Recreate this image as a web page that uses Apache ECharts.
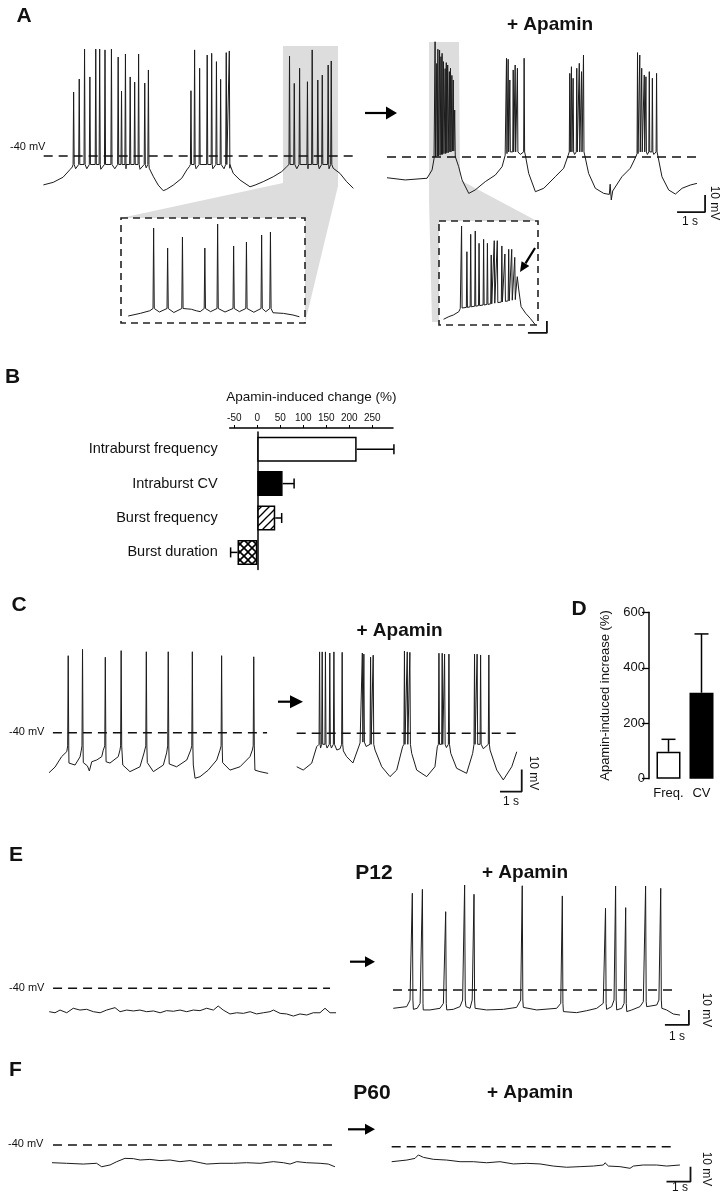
<!DOCTYPE html>
<html><head><meta charset="utf-8">
<script src="https://cdn.jsdelivr.net/npm/echarts@6/dist/echarts.min.js"></script>
<style>html,body{margin:0;padding:0;background:#fff}#c{width:724px;height:1199px}</style>
</head><body><div id="c"></div>
<script>
// ---------------- DATA ----------------
// Traces: time (s), membrane potential (mV). Spikes: [time, base mV, peak mV]
const A_LEFT_BASE = [[0.05,-57],[0.4,-55.5],[0.75,-52.5],[1.0,-48],[1.08,-46.5],[1.2,-47.5],[1.6,-47.5],[2.1,-47.8],[2.6,-47.5],[3.0,-47.5],[3.5,-47.8],[3.72,-47],[3.83,-47.2],[3.98,-52.2],[4.15,-57.1],[4.33,-60.4],[4.45,-59.6],[4.69,-57.1],[4.99,-53.1],[5.17,-48.2],[5.26,-46.3],[5.5,-47.5],[6.1,-47.5],[6.5,-47.5],[6.71,-47.2],[6.83,-50.2],[7.07,-54.1],[7.43,-58.1],[7.61,-57.1],[7.90,-55.1],[8.26,-52.2],[8.56,-49.2],[8.74,-46.3],[9.1,-47.5],[9.5,-47.5],[9.9,-47.5],[10.25,-47.5],[10.40,-47.2],[10.64,-50.2],[10.88,-55.1],[11.12,-59]];
const A_LEFT_SPIKES = [[1.11,-45,-2.4],[1.31,-45,5.3],[1.50,-45,22.9],[1.69,-45,6.5],[1.90,-45,22.9],[2.04,-45,22.9],[2.23,-45,22.4],[2.46,-45,22.9],[2.70,-45,18.2],[2.82,-45,-1.8],[2.96,-45,20.0],[3.13,-45,6.5],[3.29,-45,3.5],[3.43,-45,20.0],[3.65,-45,2.9],[3.78,-45,10.6],
  [5.30,-45,-1.6],[5.43,-45,22.4],[5.61,-45,11.6],[5.88,-45,19.4],[6.04,-45,20.4],[6.21,-45,15.5],[6.36,-45,5.1],[6.56,-45,20.8],[6.67,-45,21.8],
  [8.82,-45,18.8],[8.99,-45,2.7],[9.18,-45,11.6],[9.46,-45,3.7],[9.63,-45,22.4],[9.83,-45,4.7],[9.99,-45,7.6],[10.20,-45,13.5],[10.31,-45,15.9]];
const A_RIGHT_BASE = [[0,-52.2],[0.65,-53.5],[1.43,-52.5],[1.61,-47.6],[1.68,-41],[1.9,-39],[2.2,-37.5],[2.44,-39.8],[2.56,-45.7],[2.68,-53.5],[2.92,-61.4],[3.15,-59.4],[3.51,-54.5],[3.87,-50.6],[4.11,-45.7],[4.22,-39],[4.76,-38.5],[4.94,-38.8],[5.06,-49.6],[5.30,-60.4],[5.60,-58.4],[6.01,-51.6],[6.31,-46.6],[6.47,-39],[6.70,-38.5],[7.06,-38.8],[7.20,-49.6],[7.44,-58.4],[7.74,-61.4],[7.94,-62],[7.97,-56],[8.01,-65.3],[8.06,-60],[8.39,-51.6],[8.69,-46.6],[8.89,-39.8],[9.3,-38.5],[9.53,-38.5],[9.68,-39.8],[9.82,-51.6],[10.06,-59.4],[10.30,-61.8],[10.54,-58.4],[10.83,-56.5],[11.07,-55.5]];
const A_RIGHT_SPIKES = [[1.70,-40,27.8],[1.76,-39.5,15],[1.80,-39.5,23.4],[1.86,-39,22.9],[1.91,-38.5,19],[1.95,-38.5,21],[2.00,-38,16.1],[2.06,-38,12],[2.10,-37.5,15.5],[2.15,-37.5,14.1],[2.21,-37,10.2],[2.25,-37,12.2],[2.30,-36.5,8],[2.35,-36.5,5.3],[2.40,-36.5,-12.4],
  [4.25,-38,18.1],[4.31,-37,17.5],[4.37,-37,5.3],[4.49,-37,11.2],[4.56,-37,14.1],[4.64,-37,12.2],[4.88,-37,18.1],
  [6.51,-37,9.2],[6.57,-37,13.1],[6.63,-37,6.3],[6.76,-37,12.2],[6.85,-37,15.1],[6.93,-37,10.2],[7.00,-37,20.0],
  [8.93,-38,21.4],[9.01,-37,20.0],[9.08,-37,12.2],[9.17,-37,8.2],[9.23,-37,7.2],[9.35,-37,10.2],[9.46,-37,6.3],[9.61,-37,9.2]];
const A_INSET_L_BASE = [[0.09,-50],[0.24,-47.9],[0.36,-45.8],[0.48,-46.8],[0.66,-47.2],[0.88,-44.6],[0.94,-45.8],[0.99,-46.5],[1.12,-46.5],[1.30,-46.8],[1.48,-46.5],[1.66,-47],[1.81,-46.5],[1.90,-47.4],[2.03,-47.9],[2.15,-49.2],[2.23,-50.6]];
const A_INSET_L_SPIKES = [[0.40,-44,20.4],[0.575,-44,4.4],[0.76,-44,13.2],[1.04,-44,4.4],[1.20,-44,23.6],[1.40,-44,6],[1.56,-44,9.2],[1.75,-44,14.8],[1.86,-44,17.2]];
const A_INSET_R_BASE = [[0.06,-51.9],[0.13,-49.7],[0.19,-48.3],[0.26,-45.6],[0.28,-43],[1.01,-30],[1.03,-16.4],[1.05,-27.5],[1.08,-41.4],[1.14,-46.9],[1.20,-51.1],[1.27,-56.7]];
const A_INSET_R_SPIKES = [[0.29,-42.5,25.8],[0.36,-42,4.4],[0.41,-41.5,18.9],[0.47,-41,21.7],[0.52,-40.5,11.4],[0.58,-40,14.7],[0.63,-39.5,11.4],[0.68,-39,1.7],[0.72,-38.5,13.6],[0.76,-38,13.6],[0.82,-37.5,9.2],[0.86,-37,2.5],[0.91,-36.5,6.4],[0.95,-36,6.4],[0.99,-35.5,-0.3]];

const C_LEFT_BASE = [[0,-58.2],[0.28,-55.6],[0.58,-50.9],[0.82,-48.6],[0.92,-53.8],[1.20,-54.7],[1.43,-51.0],[1.49,-47.9],[1.58,-53.6],[1.77,-55.1],[1.86,-57.4],[1.97,-53.2],[2.20,-52.4],[2.43,-50.9],[2.50,-47.9],[2.63,-53.2],[2.81,-53.8],[3.19,-50.9],[3.27,-47.9],[3.40,-54.7],[3.73,-57.7],[4.19,-55.5],[4.38,-49.2],[4.53,-53.6],[4.81,-57.7],[5.27,-54.7],[5.42,-49.2],[5.54,-54.2],[5.88,-55.5],[6.35,-52.4],[6.53,-47.9],[6.65,-54.7],[6.73,-60.7],[6.96,-60],[7.34,-57],[7.73,-52.4],[7.88,-47.9],[8.00,-53.6],[8.34,-57],[8.80,-55.5],[9.26,-50.9],[9.37,-47.9],[9.49,-57],[9.72,-57.7],[10.10,-58.5]];
const C_LEFT_SPIKES = [[0.86,-46,-5.0],[1.52,-46,-2.1],[2.57,-46,-5.7],[3.30,-46,-2.7],[4.46,-46,-3.2],[5.47,-46,-3.2],[6.58,-46,-3.2],[7.93,-46,-5.0],[9.41,-46,-5.5]];
const C_RIGHT_BASE = [[0,-55.2],[0.30,-56.7],[0.69,-53.6],[0.92,-46.1],[1.1,-46.7],[1.4,-46.7],[1.6,-46.7],[1.85,-47.6],[2.0,-47],[2.15,-48],[2.30,-50.6],[2.59,-53.5],[2.92,-44.4],[3.2,-46],[3.61,-47.6],[3.92,-55.2],[4.30,-59.7],[4.61,-56.7],[4.88,-46.1],[5.30,-49.1],[5.53,-56.7],[5.99,-59.7],[6.37,-55.2],[6.48,-46.1],[6.9,-46.5],[7.10,-49.1],[7.37,-55.9],[7.83,-58.2],[8.11,-49.1],[8.6,-47],[8.91,-47.6],[9.22,-56.7],[9.52,-61.2],[9.91,-55.2],[10.14,-48.4]];
const C_RIGHT_SPIKES = [[1.03,-45,-3],[1.15,-45,-3],[1.30,-45,-3],[1.50,-45,-3.5],[1.69,-45,-3],[2.07,-45,-3.2],
  [3.00,-44,-3.5],[3.07,-44,-4],[3.38,-45,-5.4],[3.50,-45,-4.5],
  [4.94,-45,-2.6],[5.07,-45,-3],[5.19,-45,-3.2],
  [6.53,-45,-3.6],[6.68,-45,-3.6],[6.79,-45,-4],[6.99,-45,-4],
  [8.17,-45,-4],[8.29,-45,-4],[8.45,-45,-4.4],[8.83,-45,-4.4]];

const E_LEFT_BASE = [[0.01,-55.6],[0.25,-56.3],[0.46,-54.5],[0.74,-56.3],[1.01,-53.3],[1.29,-54.5],[1.57,-54.0],[1.85,-55.6],[2.13,-56.3],[2.40,-54.5],[2.75,-52.9],[2.96,-55.6],[3.24,-54.5],[3.51,-55.1],[3.79,-54.5],[4.07,-55.6],[4.35,-55.1],[4.63,-56.3],[4.90,-54.9],[5.18,-55.3],[5.46,-54.5],[5.74,-55.6],[6.01,-54.5],[6.29,-54.9],[6.57,-53.3],[6.85,-54.5],[7.05,-51.8],[7.26,-54.5],[7.54,-57.1],[7.82,-56.3],[8.10,-56.7],[8.38,-55.6],[8.65,-57.1],[8.93,-56.3],[9.21,-55.6],[9.35,-54.5],[9.63,-56.7],[9.90,-57.1],[10.18,-58.5],[10.46,-57.1],[10.74,-57.8],[11.01,-56.3],[11.29,-56.3],[11.50,-53.3],[11.71,-56.3],[11.96,-56.3]];
const E_RIGHT_BASE = [[0.01,-52.2],[0.57,-51.1],[0.71,-46.7],[0.85,-52.9],[1.01,-52.2],[1.13,-48.9],[1.26,-53.3],[1.54,-53.3],[1.96,-52.2],[2.10,-48.9],[2.24,-53.3],[2.51,-52.9],[2.79,-51.1],[2.90,-46.7],[3.04,-51.1],[3.21,-52.2],[3.30,-46.7],[3.42,-52.2],[3.90,-53.3],[4.60,-52.9],[5.15,-51.6],[5.32,-46.7],[5.43,-51.6],[5.99,-53.3],[6.82,-52.2],[6.99,-48.9],[7.10,-54.4],[7.65,-55.1],[8.07,-53.8],[8.49,-52.2],[8.76,-48.9],[8.90,-52.9],[9.11,-51.1],[9.21,-46.7],[9.32,-53.3],[9.53,-52.2],[9.63,-48.9],[9.74,-54.4],[9.95,-53.3],[10.29,-51.1],[10.43,-47.8],[10.57,-51.1],[10.99,-50.0],[11.08,-46.7],[11.20,-52.2],[11.40,-53.3],[11.68,-56.0],[11.96,-56.7]];
const E_RIGHT_SPIKES = [[0.78,-46.7,24.5],[1.20,-48.9,27.1],[2.17,-48.9,12.2],[2.96,-46.7,30.0],[3.35,-46.7,23.8],[5.36,-46.7,29.5],[7.03,-48.9,22.7],[8.83,-48.9,14.5],[9.25,-46.7,29.3],[9.67,-48.9,14.9],[10.50,-47.8,29.3],[11.13,-46.7,27.8]];

const F_LEFT_BASE = [[0,-51.8],[0.61,-52.2],[1.30,-52.7],[1.86,-52.2],[2.07,-54.5],[2.42,-53.3],[2.70,-51.1],[3.04,-48.9],[3.39,-49.1],[3.67,-50.0],[4.08,-49.6],[4.50,-50.4],[4.92,-50.0],[5.33,-51.1],[5.75,-50.4],[6.17,-51.8],[6.45,-52.7],[7.00,-52.2],[7.56,-52.2],[8.11,-51.8],[8.67,-52.2],[9.22,-51.1],[9.64,-51.8],[9.92,-52.7],[10.20,-51.1],[10.61,-51.8],[11.17,-52.2],[11.51,-52.7],[11.79,-54.5]];
const F_RIGHT_BASE = [[0,-50],[0.63,-48.9],[0.97,-47.8],[1.11,-45.5],[1.32,-47.1],[1.73,-48.4],[2.29,-48.9],[2.85,-50.0],[3.40,-50.0],[3.96,-50.7],[4.51,-50.0],[5.07,-51.5],[5.63,-51.1],[6.18,-51.5],[6.73,-52.9],[7.29,-53.7],[7.85,-53.3],[8.40,-52.9],[8.82,-52.2],[8.89,-50.7],[9.03,-52.9],[9.51,-53.3],[9.93,-54.4],[10.07,-52.9],[10.48,-52.2],[11.04,-52.2],[11.46,-52.9],[12.01,-52.2]];

// reference level (mV) and its extent (s) per trace
const REF_MV = -40;
const REF_SPANS = {aL:[0.06,11.18], aR:[0,11.14], cL:[0.18,10.05], cR:[0,10.1], eL:[0.17,11.71], eR:[0,11.67], fL:[0.04,11.71], fR:[0,11.72]};
// scale bars: [seconds, mV]
const SCALE_MAIN = [1, 10];
const SCALE_INSET = [0.25, 10];

// Panel B
const B_CATS = ['Intraburst frequency','Intraburst CV','Burst frequency','Burst duration'];
const B_MEANS = [216, 55, 39, -43];
const B_ERRS = [81, 25, 14, 15];
const B_TICKS = [-50, 0, 50, 100, 150, 200, 250];
// Panel D
const D_CATS = ['Freq.', 'CV'];
const D_MEANS = [97, 310];
const D_ERRS = [45, 212];

// ---------------- LAYOUT ----------------
const FONT = "'Liberation Sans', Arial, sans-serif";
const INK = '#1c1c1c';
const G = {
  aL:  {left:42,    top:37,    width:336,   height:187,   x:[0,12],  y:[-80,30]},
  aR:  {left:387,   top:38,    width:336,   height:187,   x:[0,12],  y:[-80,30]},
  aIL: {left:121,   top:216,   width:184,   height:112.5, x:[0,2.3], y:[-60,30]},
  aIR: {left:439,   top:221,   width:114,   height:120,   x:[0,1.5], y:[-70,30]},
  cL:  {left:49,    top:644.7, width:238.7, height:154,   x:[0,11],  y:[-70,0]},
  cR:  {left:296.7, top:645.3, width:238.7, height:154,   x:[0,11],  y:[-70,0]},
  eL:  {left:49,    top:875.8, width:300,   height:157.5, x:[0,12.5],y:[-70,35]},
  eR:  {left:393,   top:877.5, width:312,   height:157.5, x:[0,13],  y:[-70,35]},
  fL:  {left:52,    top:1115,  width:300,   height:75,    x:[0,12.5],y:[-70,-20]},
  fR:  {left:391.7, top:1116.7,width:312,   height:75,    x:[0,13],  y:[-70,-20]}
};
const SB_POS = {aR:[10.36,-72.4], aIR:[1.17,-63.3], cR:[9.37,-66.5], eR:[11.33,-63.3], fR:[11.45,-63.3]};

function buildTrace(base, spikes, w) {
  const pts = base.map(p => [p[0], p[1]]);
  (spikes || []).forEach(s => { pts.push([s[0], s[1]], [s[0] + w * 0.5, s[2]], [s[0] + w, s[1]]); });
  pts.sort((a, b) => a[0] - b[0]);
  return pts;
}

const grids = [], xAxes = [], yAxes = [], series = [];
const gIndex = {};
Object.keys(G).forEach(k => {
  const g = G[k];
  gIndex[k] = grids.length;
  grids.push({left:g.left, top:g.top, width:g.width, height:g.height});
  xAxes.push({type:'value', gridIndex:gIndex[k], min:g.x[0], max:g.x[1], show:false});
  yAxes.push({type:'value', gridIndex:gIndex[k], min:g.y[0], max:g.y[1], show:false});
});
function addLine(k, data, style) {
  series.push({type:'line', xAxisIndex:gIndex[k], yAxisIndex:gIndex[k], data, symbol:'none', showSymbol:false,
    animation:false, clip:false, silent:true, lineStyle:Object.assign({color:INK, width:1}, style || {})});
}
addLine('aL', buildTrace(A_LEFT_BASE, A_LEFT_SPIKES, 0.04));
addLine('aR', buildTrace(A_RIGHT_BASE, A_RIGHT_SPIKES, 0.035));
addLine('aIL', buildTrace(A_INSET_L_BASE, A_INSET_L_SPIKES, 0.016));
addLine('aIR', buildTrace(A_INSET_R_BASE, A_INSET_R_SPIKES, 0.014));
addLine('cL', buildTrace(C_LEFT_BASE, C_LEFT_SPIKES, 0.05));
addLine('cR', buildTrace(C_RIGHT_BASE, C_RIGHT_SPIKES, 0.05));
addLine('eL', buildTrace(E_LEFT_BASE, [], 0.05));
addLine('eR', buildTrace(E_RIGHT_BASE, E_RIGHT_SPIKES, 0.05));
addLine('fL', buildTrace(F_LEFT_BASE, [], 0.05));
addLine('fR', buildTrace(F_RIGHT_BASE, [], 0.05));
Object.keys(REF_SPANS).forEach(k => {
  const s = REF_SPANS[k];
  addLine(k, [[s[0], REF_MV], [s[1], REF_MV]], {type:[9,6], width:1.6, color:'#111'});
});
Object.keys(SB_POS).forEach(k => {
  const p = SB_POS[k], sc = k === 'aIR' ? SCALE_INSET : SCALE_MAIN;
  addLine(k, [[p[0], p[1]], [p[0] + sc[0], p[1]], [p[0] + sc[0], p[1] + sc[1]]], {width:1.8, color:'#111'});
});

// ---- panel B ----
function pattern(cross) {
  const c = document.createElement('canvas'); c.width = c.height = 8;
  const x = c.getContext('2d');
  x.fillStyle = '#fff'; x.fillRect(0, 0, 8, 8);
  x.strokeStyle = '#000'; x.lineWidth = cross ? 1.6 : 1.3;
  const seg = (a, b, c2, d) => { x.beginPath(); x.moveTo(a, b); x.lineTo(c2, d); x.stroke(); };
  seg(-1, 9, 9, -1); seg(-1, 1, 1, -1); seg(7, 9, 9, 7);
  if (cross) { seg(-1, -1, 9, 9); seg(7, -1, 9, 1); seg(-1, 7, 1, 9); }
  return {image:c, repeat:'repeat'};
}
const bFill = ['#fff', '#000', pattern(false), pattern(true)];
const bi = grids.length;
grids.push({left:229.7, top:432, width:163.3, height:137.6});
xAxes.push({type:'value', gridIndex:bi, position:'top', offset:4, min:-60, max:295,
  name:'Apamin-induced change (%)', nameLocation:'middle', nameGap:24,
  nameTextStyle:{fontFamily:FONT, fontSize:13.5, color:'#111'},
  axisLine:{show:true, lineStyle:{color:'#000', width:1.5}},
  axisTick:{show:true, length:3, customValues:B_TICKS, lineStyle:{color:'#000'}},
  axisLabel:{customValues:B_TICKS, fontFamily:FONT, fontSize:10, color:'#111', margin:5},
  splitLine:{show:false}});
yAxes.push({type:'category', gridIndex:bi, data:B_CATS, inverse:true,
  axisLine:{show:true, onZero:true, lineStyle:{color:'#000', width:1.5}},
  axisTick:{show:false}, axisLabel:{fontFamily:FONT, fontSize:14.5, color:'#111', margin:12}});
series.push({type:'bar', xAxisIndex:bi, yAxisIndex:bi, barWidth:25, animation:false, silent:true,
  data:B_MEANS.map((v, i) => ({value:v, itemStyle:{color:bFill[i], borderColor:'#000', borderWidth:1.5}}))});
series.push({type:'custom', xAxisIndex:bi, yAxisIndex:bi, animation:false, silent:true,
  encode:{x:0, y:2}, data:B_MEANS.map((v, i) => [v, B_ERRS[i], i]),
  renderItem:(p, api) => {
    const v = api.value(0), e = api.value(1), c = api.value(2);
    const a = api.coord([v, c]), b = api.coord([v >= 0 ? v + e : v - e, c]);
    const st = {stroke:'#000', lineWidth:1.5};
    return {type:'group', children:[
      {type:'line', shape:{x1:a[0], y1:a[1], x2:b[0], y2:b[1]}, style:st},
      {type:'line', shape:{x1:b[0], y1:b[1] - 5, x2:b[0], y2:b[1] + 5}, style:st}]};
  }});

// ---- panel D ----
const di = grids.length;
grids.push({left:652, top:612.3, width:66, height:166.4});
xAxes.push({type:'category', gridIndex:di, data:D_CATS, axisLine:{show:false}, axisTick:{show:false},
  axisLabel:{interval:0, fontFamily:FONT, fontSize:13, color:'#111', margin:8}});
yAxes.push({type:'value', gridIndex:di, min:0, max:600, interval:200, offset:3,
  name:'Apamin-induced increase (%)', nameLocation:'middle', nameGap:37, nameRotate:90,
  nameTextStyle:{fontFamily:FONT, fontSize:13, color:'#111'},
  axisLine:{show:true, lineStyle:{color:'#000', width:1.5}},
  axisTick:{show:true, length:7, lineStyle:{color:'#000', width:1.3}},
  axisLabel:{fontFamily:FONT, fontSize:13, color:'#111', margin:4}, splitLine:{show:false}});
series.push({type:'bar', xAxisIndex:di, yAxisIndex:di, barWidth:24, animation:false, silent:true,
  data:D_MEANS.map((v, i) => ({value:v, itemStyle:{color:i ? '#000' : '#fff', borderColor:'#000', borderWidth:1.5}}))});
series.push({type:'custom', xAxisIndex:di, yAxisIndex:di, animation:false, silent:true,
  encode:{x:0, y:1}, data:D_MEANS.map((v, i) => [i, v, D_ERRS[i]]),
  renderItem:(p, api) => {
    const c = api.value(0), v = api.value(1), e = api.value(2);
    const a = api.coord([c, v]), b = api.coord([c, v + e]);
    const st = {stroke:'#000', lineWidth:1.5};
    return {type:'group', children:[
      {type:'line', shape:{x1:a[0], y1:a[1], x2:b[0], y2:b[1]}, style:st},
      {type:'line', shape:{x1:b[0] - 7, y1:b[1], x2:b[0] + 7, y2:b[1]}, style:st}]};
  }});

// ---------------- DECORATION ----------------
function T(text, x, y, size, o) {
  o = o || {};
  return {type:'text', x, y, rotation:o.rot || 0, z:20,
    style:{text, fill:'#111', font:(o.bold ? 'bold ' : '') + size + 'px ' + FONT,
      textAlign:o.align || 'center', textVerticalAlign:'middle', align:o.align || 'center', verticalAlign:'middle'}};
}
function arrowH(x1, x2, y, headLen, half) {
  return {type:'group', children:[
    {type:'line', z:20, shape:{x1, y1:y, x2:x2 - headLen + 1, y2:y}, style:{stroke:'#000', lineWidth:2.2}},
    {type:'polygon', z:20, shape:{points:[[x2 - headLen, y - half], [x2, y], [x2 - headLen, y + half]]}, style:{fill:'#000'}}]};
}
const graphic = [
  {type:'polygon', z:0, shape:{points:[[283,46],[338,46],[338,186],[305,323],[305,218],[121,218],[283,183]]}, style:{fill:'#dddddd'}},
  {type:'polygon', z:0, shape:{points:[[429,42],[459,42],[460,180],[537,221],[439,221],[439,322],[432,322],[429,200]]}, style:{fill:'#dddddd'}},
  {type:'rect', z:1, shape:{x:121, y:218, width:184, height:105}, style:{fill:'#fff', stroke:'#222', lineWidth:1.6, lineDash:[7,5]}},
  {type:'rect', z:1, shape:{x:439, y:221, width:99, height:104}, style:{fill:'#fff', stroke:'#222', lineWidth:1.6, lineDash:[7,5]}},
  {type:'line', z:20, shape:{x1:535, y1:248, x2:525.5, y2:263.3}, style:{stroke:'#000', lineWidth:2.2}},
  {type:'polygon', z:20, shape:{points:[[529.3,266],[520,272],[521.6,261.2]]}, style:{fill:'#000'}},
  arrowH(365, 397, 113, 11, 6.5),
  arrowH(278, 303, 701.7, 13, 6.5),
  arrowH(350, 375, 961.7, 10, 5.5),
  arrowH(348, 375, 1129.3, 10, 5.5),
  T('A', 24, 16, 21, {bold:true}),
  T('+ Apamin', 550, 25, 19, {bold:true}),
  T('-40 mV', 10, 147, 11, {align:'left'}),
  T('10 mV', 714, 203, 12, {rot:-Math.PI / 2}),
  T('1 s', 690, 222, 12),
  T('B', 12.5, 377.5, 21, {bold:true}),
  T('C', 19, 605, 21, {bold:true}),
  T('+ Apamin', 399.5, 631, 19, {bold:true}),
  T('-40 mV', 9, 732, 11, {align:'left'}),
  T('10 mV', 533, 773, 12, {rot:-Math.PI / 2}),
  T('1 s', 511, 802, 12),
  T('D', 579, 609, 21, {bold:true}),
  T('E', 16, 855, 21, {bold:true}),
  T('P12', 374, 873, 21, {bold:true}),
  T('+ Apamin', 525, 873, 19, {bold:true}),
  T('-40 mV', 9, 987.5, 11, {align:'left'}),
  T('10 mV', 706, 1010, 12, {rot:-Math.PI / 2}),
  T('1 s', 677, 1037, 12),
  T('F', 15.5, 1070, 21, {bold:true}),
  T('P60', 372, 1093, 21, {bold:true}),
  T('+ Apamin', 530, 1093, 19, {bold:true}),
  T('-40 mV', 8, 1143.5, 11, {align:'left'}),
  T('10 mV', 706, 1169, 12, {rot:-Math.PI / 2}),
  T('1 s', 680, 1188, 12)
];

const chart = echarts.init(document.getElementById('c'), null, {renderer:'canvas'});
chart.setOption({backgroundColor:'#fff', animation:false, grid:grids, xAxis:xAxes, yAxis:yAxes, series, graphic});
</script></body></html>
